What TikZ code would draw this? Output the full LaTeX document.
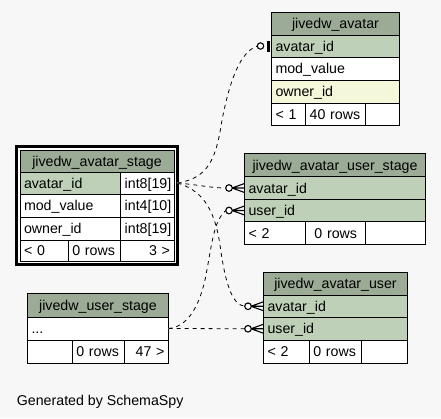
\documentclass[tikz,border=0pt]{standalone}
\usepackage{fontspec}
\setmainfont{Liberation Sans}
\newcommand\schfont{\fontsize{14.2}{17}\selectfont}
\definecolor{bgc}{HTML}{F7F7F7}
\definecolor{headc}{HTML}{9BAB96}
\definecolor{pkc}{HTML}{BED1B8}
\definecolor{idxc}{HTML}{F4F7DA}
\begin{document}
\begin{tikzpicture}[x=1pt,y=-1pt,
  cell/.style={draw=black, line width=1pt, fill=white, inner xsep=4pt, inner ysep=0pt,
    outer sep=0pt, anchor=north west, text height=10.2pt, text depth=0pt, font=\schfont, align=left},
  cellw/.code={\pgfmathsetmacro\schcw{#1-8}\edef\schtmp{\noexpand\tikzset{minimum width=#1pt, text width=\schcw pt}}\schtmp},
  cellh/.style={minimum height=#1pt},
  hdr/.style={fill=headc, align=center},
  pkey/.style={fill=pkc},
  indexed/.style={fill=idxc},
  rgt/.style={align=right},
  ctr/.style={align=center},
  frame/.style={draw=black, line width=3pt, fill=white, inner sep=0pt, outer sep=0pt, anchor=north west},
  rel/.style={draw=black, line width=0.8pt, dash pattern=on 4pt off 4pt,
    preaction={draw=white, solid, line width=0.8pt}},
  mk/.style={draw=black, line width=1.1pt},
  crowodot/.pic={
    \draw[mk] (-12.5,0) -- (0,-4.5) (-12.5,0) -- (0,0) (-12.5,0) -- (0,4.5);
    \draw[mk, fill=white] (-15.5,0) circle[radius=3.3pt];
  },
  teeodot/.pic={
    \fill[black] (-4.2,-5.5) rectangle (-1.2,5.5);
    \draw[mk, fill=white] (-11,0) circle[radius=3.2pt];
  },
  gen/.style={font=\schfont, inner sep=0pt, anchor=base west}
]
\fill[bgc] (0,0) rectangle (441,418);
\useasboundingbox (0,0) rectangle (441,418);

% jivedw_avatar
\node[cell, hdr, cellw=128, cellh=23] (avhead) at (271.5,12) {jivedw\_avatar};
\node[cell, pkey, cellw=128, cellh=22] (avaid) at (271.5,35) {avatar\_id};
\node[cell, cellw=128, cellh=23] (avmod) at (271.5,57) {mod\_value};
\node[cell, indexed, cellw=128, cellh=23] (avown) at (271.5,80) {owner\_id};
\node[cell, cellw=34.2, cellh=22] (avf1) at (271.5,103) {< 1};
\node[cell, cellw=60, cellh=22] (avf2) at (305.7,103) {40 rows};
\node[cell, cellw=33.8, cellh=22] (avf3) at (365.7,103) {};

% jivedw_avatar_stage
\node[frame, minimum width=161pt, minimum height=118pt] (asframe) at (16.5,146.5) {};
\node[cell, hdr, cellw=154, cellh=22] (ashead) at (20,150) {jivedw\_avatar\_stage};
\node[cell, pkey, cellw=100.7, cellh=22] (asaid) at (20,172) {avatar\_id};
\node[cell, cellw=53.3, cellh=22] (asaidt) at (120.7,172) {int8[19]};
\node[cell, cellw=100.7, cellh=23] (asmod) at (20,194) {mod\_value};
\node[cell, cellw=53.3, cellh=23] (asmodt) at (120.7,194) {int4[10]};
\node[cell, cellw=100.7, cellh=23] (asown) at (20,217) {owner\_id};
\node[cell, cellw=53.3, cellh=23] (asownt) at (120.7,217) {int8[19]};
\node[cell, cellw=48.3, cellh=21] (asf1) at (20,240) {< 0};
\node[cell, cellw=52.4, cellh=21] (asf2) at (68.3,240) {0 rows};
\node[cell, rgt, cellw=53.3, cellh=21] (asf3) at (120.7,240) {3 >};

% jivedw_avatar_user_stage
\node[cell, hdr, cellw=181, cellh=23] (aushead) at (244.5,153.5) {jivedw\_avatar\_user\_stage};
\node[cell, pkey, cellw=181, cellh=23] (ausaid) at (244.5,176.5) {avatar\_id};
\node[cell, pkey, cellw=181, cellh=22] (ausuid) at (244.5,199.5) {user\_id};
\node[cell, cellw=61.2, cellh=23] (ausf1) at (244.5,221.5) {< 2};
\node[cell, ctr, cellw=60, cellh=23] (ausf2) at (305.7,221.5) {0 rows};
\node[cell, cellw=59.8, cellh=23] (ausf3) at (365.7,221.5) {};

% jivedw_user_stage
\node[cell, hdr, cellw=141, cellh=23.5] (ushead) at (27.5,293.5) {jivedw\_user\_stage};
\node[cell, cellw=141, cellh=23] (usdots) at (27.5,317) {...};
\node[cell, cellw=44.8, cellh=23.5] (usf1) at (27.5,340) {};
\node[cell, cellw=52, cellh=23.5] (usf2) at (72.3,340) {0 rows};
\node[cell, rgt, cellw=44.2, cellh=23.5] (usf3) at (124.3,340) {47 >};

% jivedw_avatar_user
\node[cell, hdr, cellw=144, cellh=22.5] (auhead) at (263.5,272.5) {jivedw\_avatar\_user};
\node[cell, pkey, cellw=144, cellh=22.5] (auaid) at (263.5,295) {avatar\_id};
\node[cell, pkey, cellw=144, cellh=22.5] (auuid) at (263.5,317.5) {user\_id};
\node[cell, cellw=45.8, cellh=23.5] (auf1) at (263.5,340) {< 2};
\node[cell, cellw=52.4, cellh=23.5] (auf2) at (309.3,340) {0 rows};
\node[cell, cellw=45.8, cellh=23.5] (auf3) at (361.7,340) {};

% connector end points
\coordinate (asout) at (asframe.east |- asaid.east);
\coordinate (e1) at ([xshift=-14.2pt]avaid.west);
\coordinate (e2) at ([xshift=-18.8pt]ausaid.west);
\coordinate (e3) at ([xshift=-18.8pt]auaid.west);
\coordinate (e4) at ([xshift=-18.8pt]ausuid.west);
\coordinate (e5) at ([xshift=-18.8pt]auuid.west);

% connectors
\draw[rel] (asout) .. controls (208,178) and (216,160) .. (222,120) .. controls (230,80) and (240,52) .. (e1);
\draw[rel] (asout) .. controls (200,185) and (212,188) .. (e2);
\draw[rel] (asout) .. controls (200,190) and (214,205) .. (220,245) .. controls (226,290) and (234,305) .. (e3);
\draw[rel] (usdots.east) .. controls (186,327) and (198,310) .. (205,280) .. controls (212,245) and (213,222) .. (e4);
\draw[rel] (usdots.east) -- (e5);

% markers
\pic at (avaid.west) {teeodot};
\pic at (ausaid.west) {crowodot};
\pic at (ausuid.west) {crowodot};
\pic at (auaid.west) {crowodot};
\pic at (auuid.west) {crowodot};

\node[gen] (gentext) at (16.7,405) {Generated by SchemaSpy};
\end{tikzpicture}
\end{document}
